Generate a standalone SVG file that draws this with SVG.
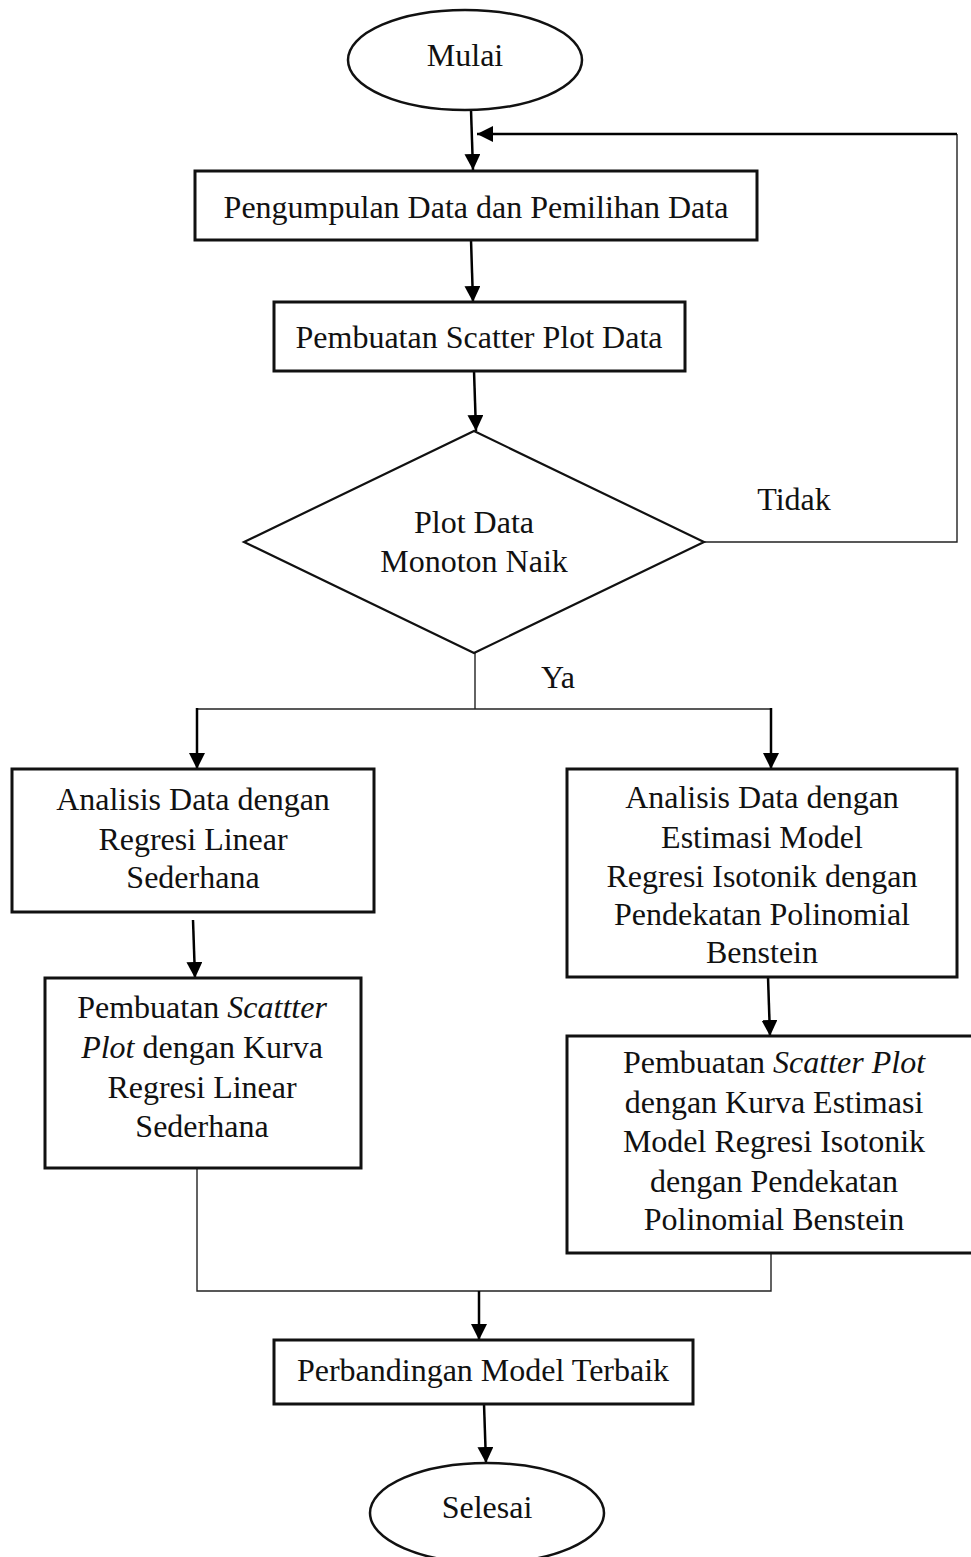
<svg xmlns="http://www.w3.org/2000/svg" width="971" height="1557" viewBox="0 0 971 1557">
  <defs>
    <marker id="arrow" markerUnits="userSpaceOnUse" markerWidth="16" markerHeight="18" refX="16" refY="8" orient="auto">
      <path d="M0,0 L16,8 L0,16 Z" fill="#000"/>
    </marker>
    <style>
      .box { fill: #fff; stroke: #111; stroke-width: 3; }
      .term { fill: #fff; stroke: #111; stroke-width: 2.5; }
      .lbl { font-family: "Liberation Serif", "Times New Roman", serif; font-size: 32px; fill: #111; text-anchor: middle; }
      .it { font-style: italic; }
      .arr { fill: none; stroke: #000; stroke-width: 2.5; marker-end: url(#arrow); }
      .ln { fill: none; stroke: #222; stroke-width: 1.4; }
    </style>
  </defs>
  <rect width="971" height="1557" fill="#fff"/>

  <!-- connectors -->
  <g id="connectors">
    <line class="arr" x1="471" y1="110" x2="473" y2="170"/>
    <polyline class="ln" points="704,542 957,542 957,134"/>
    <line class="arr" x1="957" y1="134" x2="477" y2="134"/>
    <line class="arr" x1="471" y1="240" x2="473" y2="302"/>
    <line class="arr" x1="474" y1="371" x2="476" y2="431"/>
    <polyline class="ln" points="475,653 475,709"/>
    <line class="ln" x1="197" y1="709" x2="771" y2="709"/>
    <line class="arr" x1="197" y1="708" x2="197" y2="769"/>
    <line class="arr" x1="771" y1="708" x2="771" y2="769"/>
    <line class="arr" x1="193" y1="920" x2="195" y2="978"/>
    <line class="arr" x1="768" y1="977" x2="770" y2="1036"/>
    <polyline class="ln" points="197,1168 197,1291 771,1291 771,1253"/>
    <line class="arr" x1="479" y1="1291" x2="479" y2="1340"/>
    <line class="arr" x1="484" y1="1404" x2="486" y2="1463"/>
    <text class="lbl" x="794" y="510">Tidak</text>
    <text class="lbl" x="558" y="688">Ya</text>
  </g>

  <g id="mulai">
    <ellipse class="term" cx="465" cy="60" rx="117" ry="50"/>
    <text class="lbl" x="465" y="66">Mulai</text>
  </g>

  <g id="pengumpulan">
    <rect class="box" x="195" y="171" width="562" height="69"/>
    <text class="lbl" x="476" y="218">Pengumpulan Data dan Pemilihan Data</text>
  </g>

  <g id="scatter-data">
    <rect class="box" x="274" y="302" width="411" height="69"/>
    <text class="lbl" x="479" y="348">Pembuatan Scatter Plot Data</text>
  </g>

  <g id="monoton">
    <polygon points="474,431 704,542 474,653 244,542" fill="#fff" stroke="#111" stroke-width="2.2"/>
    <text class="lbl" x="474" y="533">Plot Data</text>
    <text class="lbl" x="474" y="572">Monoton Naik</text>
  </g>

  <g id="linear">
    <rect class="box" x="12" y="769" width="362" height="143"/>
    <text class="lbl" x="193" y="810">Analisis Data dengan</text>
    <text class="lbl" x="193" y="850">Regresi Linear</text>
    <text class="lbl" x="193" y="888">Sederhana</text>
  </g>

  <g id="scatter-linear">
    <rect class="box" x="45" y="978" width="316" height="190"/>
    <text class="lbl" x="202" y="1018">Pembuatan <tspan class="it">Scattter</tspan></text>
    <text class="lbl" x="202" y="1058"><tspan class="it">Plot</tspan> dengan Kurva</text>
    <text class="lbl" x="202" y="1098">Regresi Linear</text>
    <text class="lbl" x="202" y="1137">Sederhana</text>
  </g>

  <g id="isotonik">
    <rect class="box" x="567" y="769" width="390" height="208"/>
    <text class="lbl" x="762" y="808">Analisis Data dengan</text>
    <text class="lbl" x="762" y="848">Estimasi Model</text>
    <text class="lbl" x="762" y="887">Regresi Isotonik dengan</text>
    <text class="lbl" x="762" y="925">Pendekatan Polinomial</text>
    <text class="lbl" x="762" y="963">Benstein</text>
  </g>

  <g id="scatter-isotonik">
    <rect class="box" x="567" y="1036" width="410" height="217"/>
    <text class="lbl" x="774" y="1073">Pembuatan <tspan class="it">Scatter Plot</tspan></text>
    <text class="lbl" x="774" y="1113">dengan Kurva Estimasi</text>
    <text class="lbl" x="774" y="1152">Model Regresi Isotonik</text>
    <text class="lbl" x="774" y="1192">dengan Pendekatan</text>
    <text class="lbl" x="774" y="1230">Polinomial Benstein</text>
  </g>

  <g id="perbandingan">
    <rect class="box" x="274" y="1340" width="419" height="64"/>
    <text class="lbl" x="483" y="1381">Perbandingan Model Terbaik</text>
  </g>

  <g id="selesai">
    <ellipse class="term" cx="487" cy="1513" rx="117" ry="50"/>
    <text class="lbl" x="487" y="1518">Selesai</text>
  </g>
</svg>
